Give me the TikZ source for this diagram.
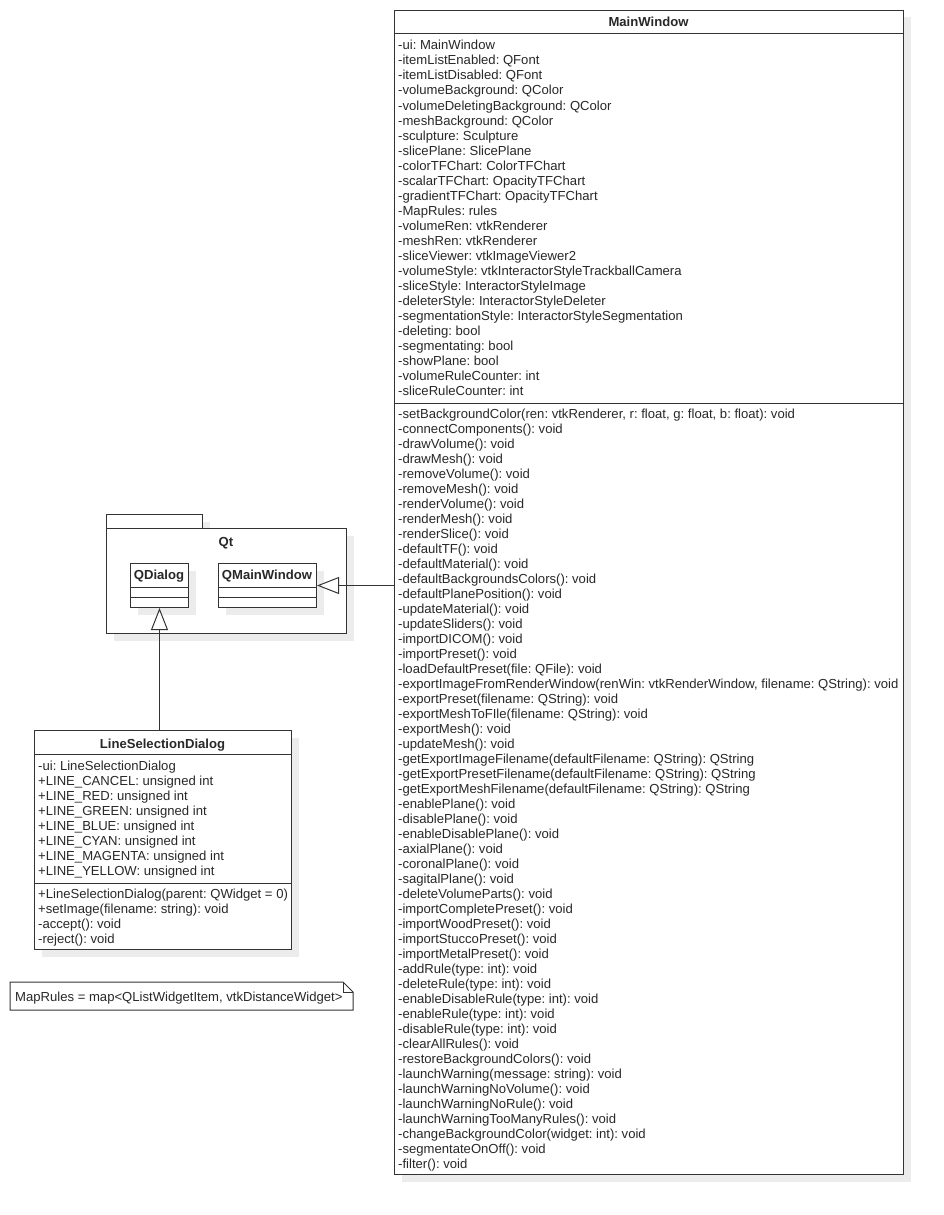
\documentclass[tikz,border=0pt]{standalone}
\usepackage{fontspec}
\setmainfont{Liberation Sans}
\usetikzlibrary{arrows.meta,shadows}
\definecolor{ln}{RGB}{51,51,51}
\definecolor{tx}{RGB}{40,40,40}
\definecolor{sh}{RGB}{236,236,236}
\frenchspacing
\begin{document}
\begin{tikzpicture}[x=1pt,y=-1pt,
  box/.style={draw=ln, line width=1pt, fill=white, inner sep=0, anchor=north west,
    drop shadow={shadow xshift=7pt, shadow yshift=-7pt, fill=sh, opacity=1}},
  row/.style={anchor=base west, inner sep=0, text=tx, font=\fontsize{13.1}{15}\selectfont\frenchspacing},
  ttl/.style={anchor=base, inner sep=0, text=tx, font=\fontsize{13.1}{15}\selectfont\bfseries},
  sep/.style={draw=ln, line width=1pt},
  inh/.style={draw=ln, line width=1pt, -{Triangle[open, length=22pt, width=17pt, fill=white]}}]
\useasboundingbox (0,0) rectangle (943,1215);
\fill[white] (0,0) rectangle (943,1215);

% ---------------- MainWindow ----------------
\node[box, minimum width=509, minimum height=1164] (mw) at (394,10) {};
\node[ttl] (mwt) at (648.5,27) {MainWindow};
\draw[sep] (394,34) -- (903,34);
\draw[sep] (394,403) -- (903,403);
\foreach \t [count=\i from 0] in {
{-ui: MainWindow},
{-itemListEnabled: QFont},
{-itemListDisabled: QFont},
{-volumeBackground: QColor},
{-volumeDeletingBackground: QColor},
{-meshBackground: QColor},
{-sculpture: Sculpture},
{-slicePlane: SlicePlane},
{-colorTFChart: ColorTFChart},
{-scalarTFChart: OpacityTFChart},
{-gradientTFChart: OpacityTFChart},
{-MapRules: rules},
{-volumeRen: vtkRenderer},
{-meshRen: vtkRenderer},
{-sliceViewer: vtkImageViewer2},
{-volumeStyle: vtkInteractorStyleTrackballCamera},
{-sliceStyle: InteractorStyleImage},
{-deleterStyle: InteractorStyleDeleter},
{-segmentationStyle: InteractorStyleSegmentation},
{-deleting: bool},
{-segmentating: bool},
{-showPlane: bool},
{-volumeRuleCounter: int},
{-sliceRuleCounter: int}}
  \node[row, name=mwa\i] at (398,{50+15*\i}) {\t};
\foreach \t [count=\i from 0] in {
{-setBackgroundColor(ren: vtkRenderer, r: float, g: float, b: float): void},
{-connectComponents(): void},
{-drawVolume(): void},
{-drawMesh(): void},
{-removeVolume(): void},
{-removeMesh(): void},
{-renderVolume(): void},
{-renderMesh(): void},
{-renderSlice(): void},
{-defaultTF(): void},
{-defaultMaterial(): void},
{-defaultBackgroundsColors(): void},
{-defaultPlanePosition(): void},
{-updateMaterial(): void},
{-updateSliders(): void},
{-importDICOM(): void},
{-importPreset(): void},
{-loadDefaultPreset(file: QFile): void},
{-exportImageFromRenderWindow(renWin: vtkRenderWindow, filename: QString): void},
{-exportPreset(filename: QString): void},
{-exportMeshToFIle(filename: QString): void},
{-exportMesh(): void},
{-updateMesh(): void},
{-getExportImageFilename(defaultFilename: QString): QString},
{-getExportPresetFilename(defaultFilename: QString): QString},
{-getExportMeshFilename(defaultFilename: QString): QString},
{-enablePlane(): void},
{-disablePlane(): void},
{-enableDisablePlane(): void},
{-axialPlane(): void},
{-coronalPlane(): void},
{-sagitalPlane(): void},
{-deleteVolumeParts(): void},
{-importCompletePreset(): void},
{-importWoodPreset(): void},
{-importStuccoPreset(): void},
{-importMetalPreset(): void},
{-addRule(type: int): void},
{-deleteRule(type: int): void},
{-enableDisableRule(type: int): void},
{-enableRule(type: int): void},
{-disableRule(type: int): void},
{-clearAllRules(): void},
{-restoreBackgroundColors(): void},
{-launchWarning(message: string): void},
{-launchWarningNoVolume(): void},
{-launchWarningNoRule(): void},
{-launchWarningTooManyRules(): void},
{-changeBackgroundColor(widget: int): void},
{-segmentateOnOff(): void},
{-filter(): void}}
  \node[row, name=mwm\i] at (398,{418+15*\i}) {\t};

% ---------------- Package Qt ----------------
\node[box, minimum width=96, minimum height=14] (qttab) at (106,514) {};
\node[box, minimum width=240, minimum height=105] (qt) at (106,528) {};
\node[ttl] (qtt) at (226,546) {Qt};

\node[box, minimum width=58, minimum height=44] (qd) at (130,563) {};
\node[ttl] (qdt) at (159,579) {QDialog};
\draw[sep] (130,587) -- (188,587);
\draw[sep] (130,597) -- (188,597);

\node[box, minimum width=98, minimum height=44] (qmw) at (218,563) {};
\node[ttl] (qmwt) at (267,579) {QMainWindow};
\draw[sep] (218,587) -- (316,587);
\draw[sep] (218,597) -- (316,597);

% ---------------- LineSelectionDialog ----------------
\node[box, minimum width=257, minimum height=219] (lsd) at (34,730) {};
\node[ttl] (lsdt) at (162.5,748) {LineSelectionDialog};
\draw[sep] (34,754) -- (291,754);
\draw[sep] (34,883) -- (291,883);
\foreach \t [count=\i from 0] in {
{-ui: LineSelectionDialog},
{+LINE\_CANCEL: unsigned int},
{+LINE\_RED: unsigned int},
{+LINE\_GREEN: unsigned int},
{+LINE\_BLUE: unsigned int},
{+LINE\_CYAN: unsigned int},
{+LINE\_MAGENTA: unsigned int},
{+LINE\_YELLOW: unsigned int}}
  \node[row, name=lsda\i] at (38,{770+15*\i}) {\t};
\foreach \t [count=\i from 0] in {
{+LineSelectionDialog(parent: QWidget = 0)},
{+setImage(filename: string): void},
{-accept(): void},
{-reject(): void}}
  \node[row, name=lsdm\i] at (38,{898+15*\i}) {\t};

% ---------------- Note ----------------
\draw[ln, line width=1pt, fill=white] (10,982) -- (343,982) -- (353,992) -- (353,1010) -- (10,1010) -- cycle;
\draw[ln, line width=1pt] (343,982) -- (343,992) -- (353,992);
\node[row] (note) at (15,1001) {MapRules = map<QListWidgetItem, vtkDistanceWidget>};

% ---------------- Connectors ----------------
\draw[inh] (mw.west |- qmw.east) -- (qmw.east);
\draw[inh] (qd.south |- lsd.north) -- (qd.south);
\end{tikzpicture}
\end{document}
